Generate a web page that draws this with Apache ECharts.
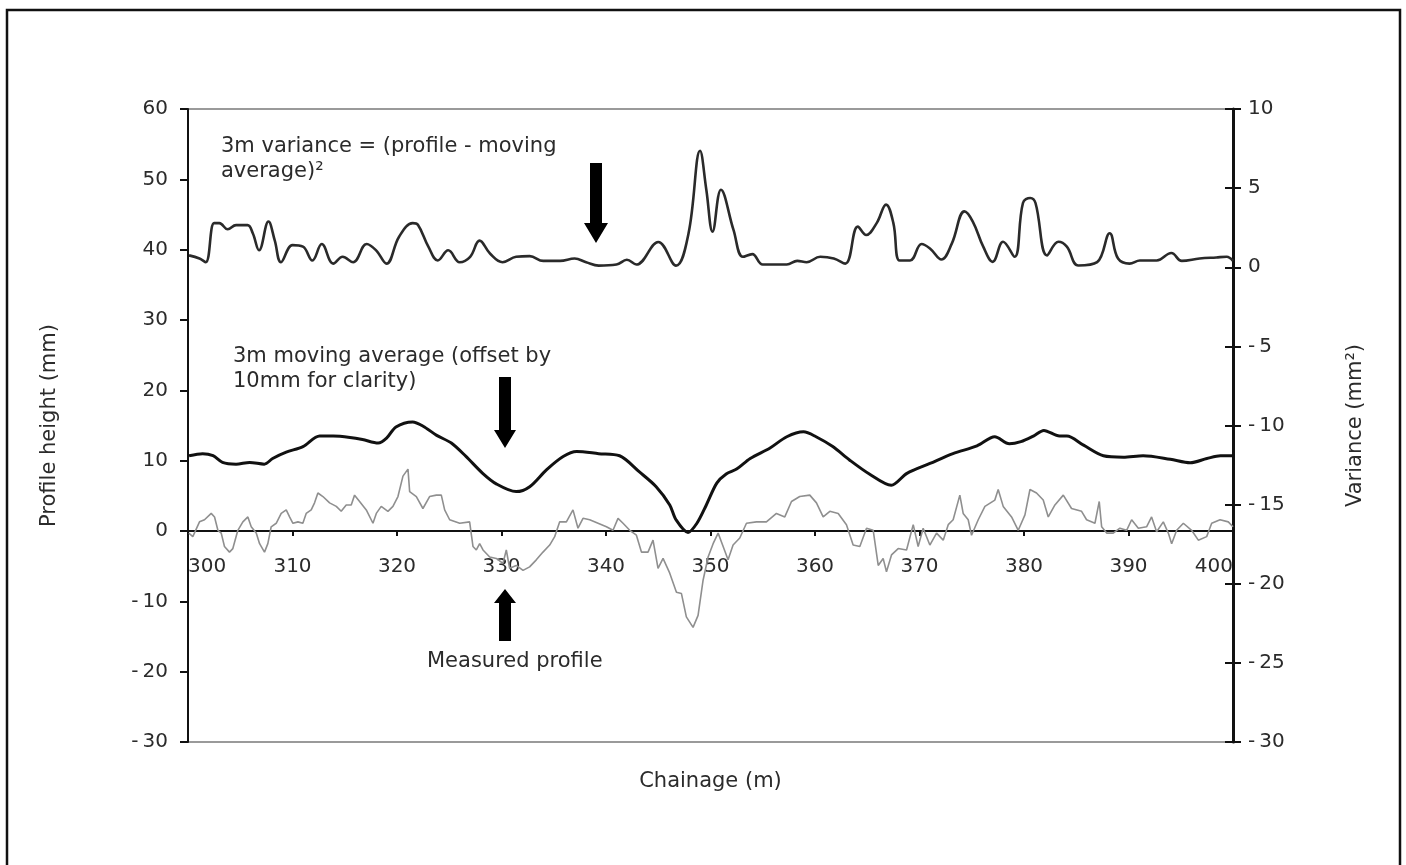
<!DOCTYPE html>
<html>
<head>
<meta charset="utf-8">
<title>Profile, moving average and variance</title>
<script src="https://cdn.jsdelivr.net/npm/echarts@6/dist/echarts.min.js"></script>
<style>
  html, body { margin: 0; padding: 0; background: #fff; }
  #chart { width: 1406px; height: 865px; }
</style>
</head>
<body>
<div id="chart"></div>
<script>
// Chainage axis (m)
const chainageMin = 300, chainageMax = 400, chainageStep = 10;
// Profile height axis (mm)
const heightMin = -30, heightMax = 60, heightStep = 10;
// Variance axis (mm²)
const varianceMin = -30, varianceMax = 10, varianceStep = 5;

// Measured profile [chainage m, height mm]
const profileData = [
  [300.08,-0.3],[300.46,-0.8],[301.10,1.3],[301.58,1.6],[302.22,2.5],[302.54,2.0],[302.86,0.1],[303.18,-0.3],
  [303.49,-2.2],[303.97,-3.0],[304.29,-2.5],[304.77,0.1],[305.25,1.3],[305.73,2.0],[306.05,0.6],[306.53,-0.3],
  [306.85,-1.8],[307.32,-3.0],[307.64,-1.8],[307.96,0.6],[308.44,1.1],[308.92,2.5],[309.40,3.0],[309.72,2.0],
  [310.04,1.1],[310.52,1.3],[310.99,1.1],[311.31,2.5],[311.79,3.0],[312.11,4.0],[312.43,5.4],[312.91,4.9],
  [313.55,4.0],[314.19,3.5],[314.66,2.8],[315.14,3.7],[315.62,3.7],[315.94,5.1],[316.42,4.2],[317.06,3.0],
  [317.70,1.1],[318.02,2.5],[318.49,3.5],[319.13,2.8],[319.61,3.5],[320.09,4.9],[320.57,7.8],[321.05,8.8],
  [321.21,5.6],[321.85,4.9],[322.48,3.2],[323.12,4.9],[323.76,5.1],[324.24,5.1],[324.56,3.0],[325.04,1.6],
  [326.00,1.1],[326.95,1.3],[327.27,-2.2],[327.59,-2.7],[327.91,-1.8],[328.23,-2.7],[328.87,-3.7],[329.50,-3.9],
  [330.14,-4.6],[330.46,-2.7],[330.78,-5.3],[331.42,-4.9],[332.06,-5.6],[332.69,-5.1],[333.33,-4.1],[333.97,-3.0],
  [334.61,-2.0],[335.09,-0.8],[335.57,1.3],[336.21,1.3],[336.84,3.0],[337.32,0.4],[337.80,1.8],[338.44,1.6],
  [339.24,1.1],[340.04,0.6],[340.67,0.1],[341.15,1.8],[341.63,1.1],[342.27,0.1],[342.91,-0.6],[343.39,-3.0],
  [344.02,-3.0],[344.50,-1.3],[344.98,-5.3],[345.46,-3.9],[346.10,-6.0],[346.74,-8.7],[347.22,-8.9],[347.69,-12.2],
  [348.33,-13.7],[348.81,-12.0],[349.29,-7.0],[349.77,-3.7],[350.25,-1.8],[350.73,-0.3],[351.21,-2.2],[351.68,-4.1],
  [352.16,-2.0],[352.80,-1.0],[353.44,1.1],[354.40,1.3],[355.35,1.3],[356.31,2.5],[357.11,2.0],[357.75,4.2],
  [358.54,4.9],[359.50,5.1],[360.14,4.0],[360.78,2.0],[361.42,2.8],[362.22,2.5],[363.01,0.9],[363.65,-2.0],
  [364.29,-2.2],[364.93,0.4],[365.57,0.1],[366.05,-4.9],[366.52,-3.9],[366.84,-5.8],[367.32,-3.4],[367.96,-2.5],
  [368.76,-2.7],[369.40,0.9],[369.87,-2.2],[370.35,0.4],[370.99,-2.0],[371.63,-0.3],[372.27,-1.3],[372.75,0.9],
  [373.22,1.6],[373.86,5.1],[374.18,2.5],[374.66,1.6],[374.98,-0.6],[375.62,1.6],[376.26,3.5],[377.21,4.4],
  [377.53,5.9],[378.01,3.5],[378.81,2.0],[379.45,0.1],[380.09,2.3],[380.57,5.9],[381.20,5.4],[381.84,4.4],
  [382.32,2.0],[382.96,3.7],[383.76,5.1],[384.55,3.2],[385.51,2.8],[385.99,1.6],[386.79,1.1],[387.20,4.2],
  [387.43,0.6],[387.91,-0.3],[388.54,-0.3],[389.18,0.4],[389.82,0.1],[390.30,1.6],[390.94,0.4],[391.73,0.6],
  [392.21,2.0],[392.69,-0.1],[393.33,1.3],[393.81,-0.3],[394.13,-1.8],[394.61,0.1],[395.25,1.1],[396.04,0.1],
  [396.68,-1.3],[397.48,-0.8],[397.96,1.1],[398.76,1.6],[399.55,1.3],[400.00,0.6]
];

// 3m moving average, offset by +10 mm [chainage m, height mm]
const movingAverageData = [
  [300.1,10.7],[301.4,11.0],[302.4,10.7],[303.3,9.75],[304.6,9.5],[305.9,9.75],[307.3,9.5],[308.1,10.3],
  [309.4,11.2],[311.0,12.0],[312.6,13.5],[313.9,13.5],[315.5,13.3],[316.7,13.0],[318.2,12.5],[319.0,13.2],
  [319.9,14.8],[321.5,15.5],[322.5,14.9],[323.8,13.6],[325.2,12.5],[326.6,10.6],[328.2,8.2],[329.5,6.7],
  [331.4,5.6],[332.7,6.3],[334.3,8.7],[335.9,10.6],[337.2,11.3],[339.3,11.0],[341.3,10.7],[343.2,8.4],
  [344.8,6.3],[346.1,3.7],[346.7,1.6],[347.85,-0.2],[348.7,1.1],[349.6,3.7],[350.6,6.8],[351.5,8.1],
  [352.5,8.8],[353.8,10.3],[355.7,11.8],[357.3,13.4],[358.9,14.1],[360.1,13.4],[361.7,12.0],[363.3,10.1],
  [365.2,8.1],[367.3,6.5],[368.8,8.2],[371.0,9.6],[373.2,11.0],[375.5,12.1],[377.2,13.4],[378.6,12.4],
  [379.7,12.7],[380.9,13.5],[381.9,14.3],[383.4,13.5],[384.1,13.5],[385.7,12.2],[387.6,10.7],[389.5,10.5],
  [391.4,10.7],[394.0,10.2],[395.9,9.7],[397.5,10.3],[398.8,10.7],[400.0,10.7]
];

// 3m variance [chainage m, variance mm²]
const varianceData = [
  [300.1,0.75],[301.1,0.55],[301.7,0.32],[302.5,2.79],[303.0,2.79],[303.8,2.4],[304.6,2.66],[305.7,2.66],
  [306.2,2.15],[306.8,1.07],[307.7,2.89],[308.3,1.7],[308.9,0.32],[310.0,1.4],[311.0,1.3],[311.9,0.43],
  [312.8,1.47],[313.9,0.23],[314.8,0.66],[315.8,0.32],[317.1,1.47],[318.0,1.07],[319.0,0.23],[320.2,1.93],
  [321.5,2.79],[322.0,2.68],[323.0,1.3],[323.9,0.43],[324.9,1.07],[326.0,0.32],[327.0,0.66],[327.9,1.68],
  [328.9,0.87],[330.1,0.32],[331.4,0.66],[332.7,0.7],[334.0,0.4],[335.6,0.4],[337.0,0.55],[338.1,0.32],
  [339.3,0.1],[341.0,0.17],[342.0,0.47],[342.9,0.17],[345.0,1.6],[346.7,0.1],[347.9,2.15],[349.0,7.36],
  [349.6,4.9],[350.2,2.25],[351.0,4.9],[352.2,2.36],[353.1,0.66],[354.0,0.83],[355.0,0.17],[357.3,0.17],
  [358.3,0.4],[359.2,0.32],[360.5,0.66],[361.8,0.55],[362.9,0.23],[364.1,2.57],[364.9,2.04],[365.9,2.79],
  [366.8,3.96],[367.5,2.79],[368.1,0.43],[369.1,0.43],[370.2,1.47],[371.0,1.19],[372.1,0.49],[373.1,1.51],
  [374.3,3.53],[375.1,2.89],[376.1,1.3],[377.0,0.34],[378.0,1.61],[379.1,0.66],[379.9,4.06],[380.6,4.38],
  [381.1,4.06],[382.2,0.75],[383.3,1.61],[384.1,1.3],[385.2,0.11],[387.0,0.32],[388.2,2.15],[389.0,0.55],
  [390.1,0.23],[391.1,0.43],[392.7,0.43],[394.1,0.9],[395.1,0.4],[396.8,0.55],[398.4,0.62],[399.4,0.66],
  [400.0,0.4]
];

const FONT = '"DejaVu Sans", sans-serif';
const TEXT = '#2b2b2b';
const minusFmt = v => (v < 0 ? '-\u2009' + Math.abs(v) : String(v));

// Plot area
const GRID = { left: 188, right: 173, top: 109, bottom: 123 };
const CHART_H = 865;
// The chainage axis runs along the zero line of the height axis
const zeroLineY = GRID.top + (CHART_H - GRID.top - GRID.bottom) * heightMax / (heightMax - heightMin);
const chainageAxisOffset = zeroLineY - (CHART_H - GRID.bottom);

// Block arrow polygon: shaft from (x, y0) towards tip (x, y1)
function blockArrow(x, y0, y1, shaftHalf, headHalf, headLen) {
  const dir = y1 > y0 ? 1 : -1;
  const yh = y1 - dir * headLen;
  return {
    type: 'polygon',
    shape: { points: [
      [x - shaftHalf, y0], [x + shaftHalf, y0], [x + shaftHalf, yh],
      [x + headHalf, yh], [x, y1], [x - headHalf, yh], [x - shaftHalf, yh]
    ] },
    style: { fill: '#000' },
    z: 10
  };
}

const chart = echarts.init(document.getElementById('chart'), null, { renderer: 'canvas' });

chart.setOption({
  animation: false,
  backgroundColor: '#fff',
  textStyle: { fontFamily: FONT },
  grid: {
    left: GRID.left, right: GRID.right, top: GRID.top, bottom: GRID.bottom,
    outerBoundsMode: 'none',
    containLabel: false,
    show: true, borderColor: '#9a9a9a', borderWidth: 2, backgroundColor: 'transparent'
  },
  xAxis: {
    type: 'value',
    position: 'bottom',
    offset: chainageAxisOffset,
    min: chainageMin, max: chainageMax, interval: chainageStep,
    name: 'Chainage (m)',
    nameLocation: 'middle',
    nameGap: 240,
    nameTextStyle: { fontFamily: FONT, fontSize: 21, color: TEXT },
    axisLine: { onZero: false, lineStyle: { color: '#111', width: 2 } },
    axisTick: { show: true, length: 5, lineStyle: { color: '#111', width: 2 } },
    axisLabel: {
      fontFamily: FONT, fontSize: 20, color: TEXT, margin: 26,
      alignMinLabel: 'left', alignMaxLabel: 'right'
    },
    splitLine: { show: false }
  },
  yAxis: [
    {
      type: 'value', position: 'left',
      min: heightMin, max: heightMax, interval: heightStep,
      name: 'Profile height (mm)',
      nameLocation: 'middle', nameGap: 128,
      nameTextStyle: { fontFamily: FONT, fontSize: 21, color: TEXT },
      axisLine: { show: true, onZero: false, lineStyle: { color: '#111', width: 2 } },
      axisTick: { show: true, length: 8, lineStyle: { color: '#111', width: 2 } },
      axisLabel: { fontFamily: FONT, fontSize: 20, color: TEXT, margin: 20, formatter: minusFmt },
      splitLine: { show: false }
    },
    {
      type: 'value', position: 'right',
      min: varianceMin, max: varianceMax, interval: varianceStep,
      name: 'Variance (mm²)',
      nameLocation: 'middle', nameGap: 112,
      nameTextStyle: { fontFamily: FONT, fontSize: 21, color: TEXT },
      axisLine: { show: true, onZero: false, lineStyle: { color: '#111', width: 3 } },
      axisTick: { show: true, length: 8, lineStyle: { color: '#111', width: 2 } },
      axisLabel: { fontFamily: FONT, fontSize: 20, color: TEXT, margin: 15, formatter: minusFmt },
      splitLine: { show: false }
    },
    {
      // inner half of the cross ticks on the variance axis
      type: 'value', position: 'right',
      min: varianceMin, max: varianceMax, interval: varianceStep,
      axisLine: { show: false },
      axisTick: { show: true, inside: true, length: 8, lineStyle: { color: '#111', width: 2 } },
      axisLabel: { show: false },
      splitLine: { show: false }
    }
  ],
  series: [
    {
      name: 'Measured profile',
      type: 'line', xAxisIndex: 0, yAxisIndex: 0,
      data: profileData,
      showSymbol: false,
      lineStyle: { color: '#8f8f8f', width: 1.6 },
      z: 2
    },
    {
      name: '3m moving average',
      type: 'line', xAxisIndex: 0, yAxisIndex: 0,
      data: movingAverageData,
      showSymbol: false, smooth: 0.3,
      lineStyle: { color: '#111', width: 3 },
      z: 3
    },
    {
      name: '3m variance',
      type: 'line', xAxisIndex: 0, yAxisIndex: 1,
      data: varianceData,
      showSymbol: false, smooth: 0.4,
      lineStyle: { color: '#2a2a2a', width: 2.6 },
      z: 4
    }
  ],
  graphic: [
    {
      type: 'rect',
      shape: { x: 7, y: 10, width: 1393, height: 900 },
      style: { fill: 'none', stroke: '#111', lineWidth: 2.5 },
      silent: true, z: 0
    },
    {
      type: 'text', left: 221, top: 134,
      style: {
        text: '3m variance = (profile - moving\naverage)²',
        font: '21px ' + FONT, fill: TEXT, lineHeight: 25
      }
    },
    {
      type: 'text', left: 233, top: 344,
      style: {
        text: '3m moving average (offset by\n10mm for clarity)',
        font: '21px ' + FONT, fill: TEXT, lineHeight: 25
      }
    },
    {
      type: 'text', left: 427, top: 651,
      style: { text: 'Measured profile', font: '21px ' + FONT, fill: TEXT }
    },
    blockArrow(596, 163, 243, 6, 12, 20),
    blockArrow(505, 377, 448, 6, 11, 18),
    blockArrow(505, 641, 589, 6, 11, 14)
  ]
});
</script>
</body>
</html>
